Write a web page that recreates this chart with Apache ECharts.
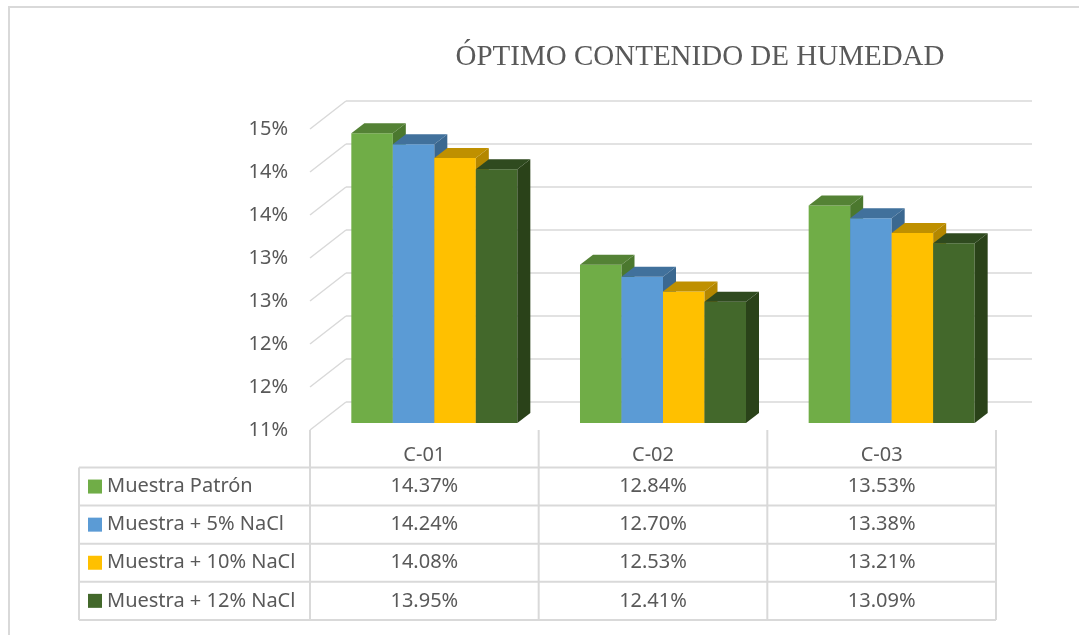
<!DOCTYPE html>
<html>
<head>
<meta charset="utf-8">
<script src="https://cdn.jsdelivr.net/npm/echarts@6/dist/echarts.min.js"></script>
<style>
html, body { margin: 0; padding: 0; background: #fff; }
#chart { width: 1079px; height: 635px; }
</style>
</head>
<body>
<div id="chart"></div>
<script>
var categories = ['C-01', 'C-02', 'C-03'];
var seriesNames = ['Muestra Patrón', 'Muestra + 5% NaCl', 'Muestra + 10% NaCl', 'Muestra + 12% NaCl'];
var patron = [14.37, 12.84, 13.53];
var nacl5 = [14.24, 12.70, 13.38];
var nacl10 = [14.08, 12.53, 13.21];
var nacl12 = [13.95, 12.41, 13.09];
var yTicks = [11, 11.5, 12, 12.5, 13, 13.5, 14, 14.5];

var allValues = [patron, nacl5, nacl10, nacl12];
// front, top, side
var faces = [
	['#70AD47', '#548235', '#4B782E'],
	['#5B9BD5', '#41719C', '#3B6890'],
	['#FFC000', '#BF9000', '#B38700'],
	['#43682B', '#2F4A1F', '#2A4219']
];

var GRID_L = 310, GRID_R = 996, GRID_T = 129, GRID_B = 430;
var DEPTH = [36, -28];
var BAR_OFF = [10, -7];
var BAR_D = [13, -10];
var TEXT = '#595959';
var LINE = '#d9d9d9';
var FONT = 'Noto Sans';

function barItem(si) {
	return function (params, api) {
		var c = api.coord([api.value(0), api.value(1)]);
		var b = api.coord([api.value(0), yTicks[0]]);
		var band = api.size([1, 0])[0];
		var bw = band * 0.1815;
		var x0 = c[0] - 2 * bw + si * bw + BAR_OFF[0];
		var x1 = x0 + bw;
		var yt = c[1] + BAR_OFF[1], yb = b[1] + BAR_OFF[1];
		var dx = BAR_D[0], dy = BAR_D[1];
		return {
			type: 'group',
			children: [
				{ type: 'rect', shape: { x: x0, y: yt, width: bw, height: yb - yt }, style: { fill: faces[si][0] } },
				{ type: 'polygon', shape: { points: [[x0, yt], [x1, yt], [x1 + dx, yt + dy], [x0 + dx, yt + dy]] }, style: { fill: faces[si][1] } },
				{ type: 'polygon', shape: { points: [[x1, yt], [x1 + dx, yt + dy], [x1 + dx, yb + dy], [x1, yb]] }, style: { fill: faces[si][2] } }
			]
		};
	};
}

var series = [{
	type: 'custom',
	xAxisIndex: 0,
	yAxisIndex: 0,
	silent: true,
	data: yTicks.map(function (v) { return [0, v]; }),
	renderItem: function (params, api) {
		var p = api.coord([0, api.value(1)]);
		var x = params.coordSys.x;
		return {
			type: 'line',
			shape: { x1: x, y1: p[1], x2: x + DEPTH[0], y2: p[1] + DEPTH[1] },
			style: { stroke: LINE, lineWidth: 1.5 }
		};
	}
}];
allValues.forEach(function (vals, si) {
	series.push({
		name: seriesNames[si],
		type: 'custom',
		xAxisIndex: 0,
		yAxisIndex: 0,
		renderItem: barItem(si),
		data: vals.map(function (v, i) { return [i, v]; })
	});
});

var chart = echarts.init(document.getElementById('chart'));
var option = {
	animation: false,
	title: {
		text: 'ÓPTIMO CONTENIDO DE HUMEDAD',
		left: 695,
		top: 38,
		textAlign: 'center',
		textStyle: { fontFamily: 'Liberation Serif', fontWeight: 'normal', fontSize: 29, color: TEXT }
	},
	grid: [{
		left: GRID_L, right: 1079 - GRID_R, top: GRID_T, bottom: 635 - GRID_B
	}, {
		left: GRID_L + DEPTH[0], right: 1079 - GRID_R - DEPTH[0], top: GRID_T + DEPTH[1], bottom: 635 - GRID_B - DEPTH[1]
	}],
	xAxis: [{
		gridIndex: 0,
		type: 'category',
		data: categories,
		axisLine: { show: false },
		axisTick: { show: false },
		axisLabel: { margin: 15, fontFamily: FONT, fontSize: 20, color: TEXT }
	}, {
		gridIndex: 1,
		type: 'category',
		data: categories,
		show: false
	}],
	yAxis: [{
		gridIndex: 0,
		type: 'value',
		min: 11, max: 14.5, interval: 0.5,
		splitLine: { show: false },
		axisLine: { show: false },
		axisTick: { show: false },
		axisLabel: {
			margin: 22, fontFamily: FONT, fontSize: 20, color: TEXT,
			formatter: function (v) { return Math.round(v) + '%'; }
		}
	}, {
		gridIndex: 1,
		type: 'value',
		min: 11, max: 14.5, interval: 0.5,
		axisLine: { show: false },
		axisTick: { show: false },
		axisLabel: { show: false },
		splitLine: { lineStyle: { color: LINE, width: 1.5 } }
	}],
	series: series
};
chart.setOption(option);

// data table under the plot
var TBL_L = 79, HEAD_T = 430, ROW_T = 467.5, ROW_H = 38.1;
var band = (GRID_R - GRID_L) / categories.length;
var g = [];
g.push({ type: 'polyline', shape: { points: [[9, 635], [9, 7], [1079, 7]] }, style: { stroke: LINE, lineWidth: 2, fill: null } });
for (var r = 0; r <= seriesNames.length; r++) {
	var y = ROW_T + r * ROW_H;
	g.push({ type: 'line', shape: { x1: TBL_L, y1: y, x2: GRID_R, y2: y }, style: { stroke: LINE, lineWidth: 2 } });
}
var bottomY = ROW_T + seriesNames.length * ROW_H;
g.push({ type: 'line', shape: { x1: TBL_L, y1: ROW_T, x2: TBL_L, y2: bottomY }, style: { stroke: LINE, lineWidth: 2 } });
for (var c = 0; c <= categories.length; c++) {
	var x = GRID_L + c * band;
	g.push({ type: 'line', shape: { x1: x, y1: HEAD_T, x2: x, y2: bottomY }, style: { stroke: LINE, lineWidth: 2 } });
}
seriesNames.forEach(function (name, si) {
	var cy = ROW_T + si * ROW_H + ROW_H / 2;
	g.push({ type: 'rect', shape: { x: 88, y: cy - 7, width: 14, height: 14 }, style: { fill: faces[si][0] } });
	g.push({ type: 'text', x: 107, y: cy, style: { text: name, fontFamily: FONT, fontSize: 20, fill: TEXT, verticalAlign: 'middle', align: 'left' } });
	allValues[si].forEach(function (v, ci) {
		var cx = chart.convertToPixel({ xAxisIndex: 0 }, categories[ci]);
		g.push({ type: 'text', x: cx, y: cy, style: { text: v.toFixed(2) + '%', fontFamily: FONT, fontSize: 20, fill: TEXT, verticalAlign: 'middle', align: 'center' } });
	});
});
chart.setOption({ graphic: { elements: g } });
</script>
</body>
</html>
